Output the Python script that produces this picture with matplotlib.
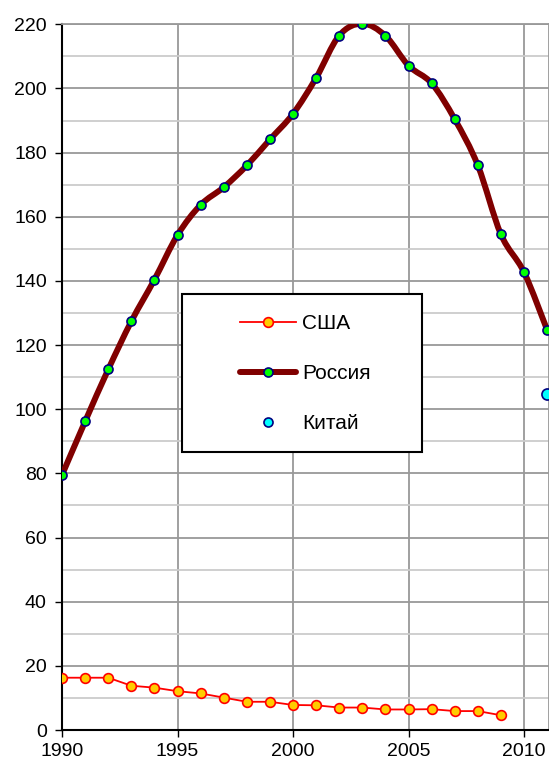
import matplotlib
matplotlib.use("Agg")
import matplotlib.pyplot as plt
from matplotlib.path import Path
from matplotlib.patches import PathPatch, Rectangle
from matplotlib.lines import Line2D
from matplotlib.ticker import MultipleLocator

plt.rcParams['font.family'] = ['Liberation Sans', 'DejaVu Sans']

years_usa = list(range(1990, 2010))
usa = [16.3, 16.3, 16.3, 13.8, 13.2, 12.1, 11.4, 10.1, 8.8, 8.8,
       7.8, 7.7, 7.0, 7.0, 6.4, 6.4, 6.5, 5.9, 5.9, 4.6]

years_rus = list(range(1990, 2012))
russia = [79.5, 96.2, 112.4, 127.4, 140.4, 154.3, 163.7, 169.2, 176.0, 184.1,
          192.1, 203.3, 216.5, 220.2, 216.4, 207.1, 201.6, 190.4, 176.0, 154.5,
          142.7, 124.7]

years_china = [2011]
china = [104.9]

labels = ["США", "Россия", "Китай"]


def smooth_path(xs, ys):
    # Bezier segments like Excel "smoothed line"
    pts = list(zip(xs, ys))
    verts = [pts[0]]
    codes = [Path.MOVETO]
    n = len(pts)
    for i in range(n - 1):
        p0 = pts[i - 1] if i > 0 else pts[i]
        p1 = pts[i]
        p2 = pts[i + 1]
        p3 = pts[i + 2] if i + 2 < n else pts[i + 1]
        c1 = (p1[0] + (p2[0] - p0[0]) / 6, p1[1] + (p2[1] - p0[1]) / 6)
        c2 = (p2[0] - (p3[0] - p1[0]) / 6, p2[1] - (p3[1] - p1[1]) / 6)
        verts += [c1, c2, p2]
        codes += [Path.CURVE4] * 3
    return Path(verts, codes)


fig = plt.figure(figsize=(5.49, 7.64), dpi=100)
ax = fig.add_axes([0.113, 0.0445, 0.887, 0.9237])

ax.set_xlim(1990, 2011.08)
ax.set_ylim(0, 220)
ax.xaxis.set_major_locator(MultipleLocator(5))
ax.yaxis.set_major_locator(MultipleLocator(20))
ax.yaxis.set_minor_locator(MultipleLocator(10))
ax.grid(True, which='major', color='#999999', lw=1.3)
ax.grid(True, which='minor', axis='y', color='#cccccc', lw=1.3)
ax.set_axisbelow(True)
ax.tick_params(which='major', direction='out', length=5, width=1, labelsize=14, color='black')
ax.tick_params(axis='y', pad=6)
ax.tick_params(axis='x', pad=4)
ax.tick_params(which='minor', length=0)
for s in ['left', 'bottom']:
    ax.spines[s].set_color('black')
    ax.spines[s].set_linewidth(1.5)
for s in ['top', 'right']:
    ax.spines[s].set_color('#999999')
    ax.spines[s].set_linewidth(1.3)

ax.plot(years_usa, usa, color='red', lw=1.3, marker='o', markersize=7,
        markerfacecolor='#ffcc00', markeredgecolor='red', markeredgewidth=1.2, zorder=3)

ax.add_patch(PathPatch(smooth_path(years_rus, russia), facecolor='none',
                       edgecolor='#800000', lw=4.3, capstyle='round', zorder=3))
ax.plot(years_rus, russia, ls='none', marker='o', markersize=6.5,
        markerfacecolor='#00ff00', markeredgecolor='#000080', markeredgewidth=1.2, zorder=4)

ax.plot(years_china, china, ls='none', marker='o', markersize=8,
        markerfacecolor='#00ffff', markeredgecolor='#000080', markeredgewidth=1.2, zorder=4)

# legend frame
ax.add_patch(Rectangle((0.246, 0.394), 0.493, 0.224, transform=ax.transAxes,
                       facecolor='white', edgecolor='black', lw=1.5, zorder=5))
handles = [
    Line2D([], [], color='red', lw=1.3, marker='o', markersize=7,
           markerfacecolor='#ffcc00', markeredgecolor='red', markeredgewidth=1.2),
    Line2D([], [], color='#800000', lw=4.3, solid_capstyle='round', marker='o', markersize=6.5,
           markerfacecolor='#00ff00', markeredgecolor='#000080', markeredgewidth=1.2),
    Line2D([], [], ls='none', marker='o', markersize=6.5,
           markerfacecolor='#00ffff', markeredgecolor='#000080', markeredgewidth=1.2),
]
leg = ax.legend(handles, labels, loc='center', bbox_to_anchor=(0.500, 0.505),
                frameon=False, fontsize=15, handlelength=2.7, handletextpad=0.29,
                labelspacing=1.5)
leg.set_zorder(6)

fig.savefig("out.png", dpi=100)
